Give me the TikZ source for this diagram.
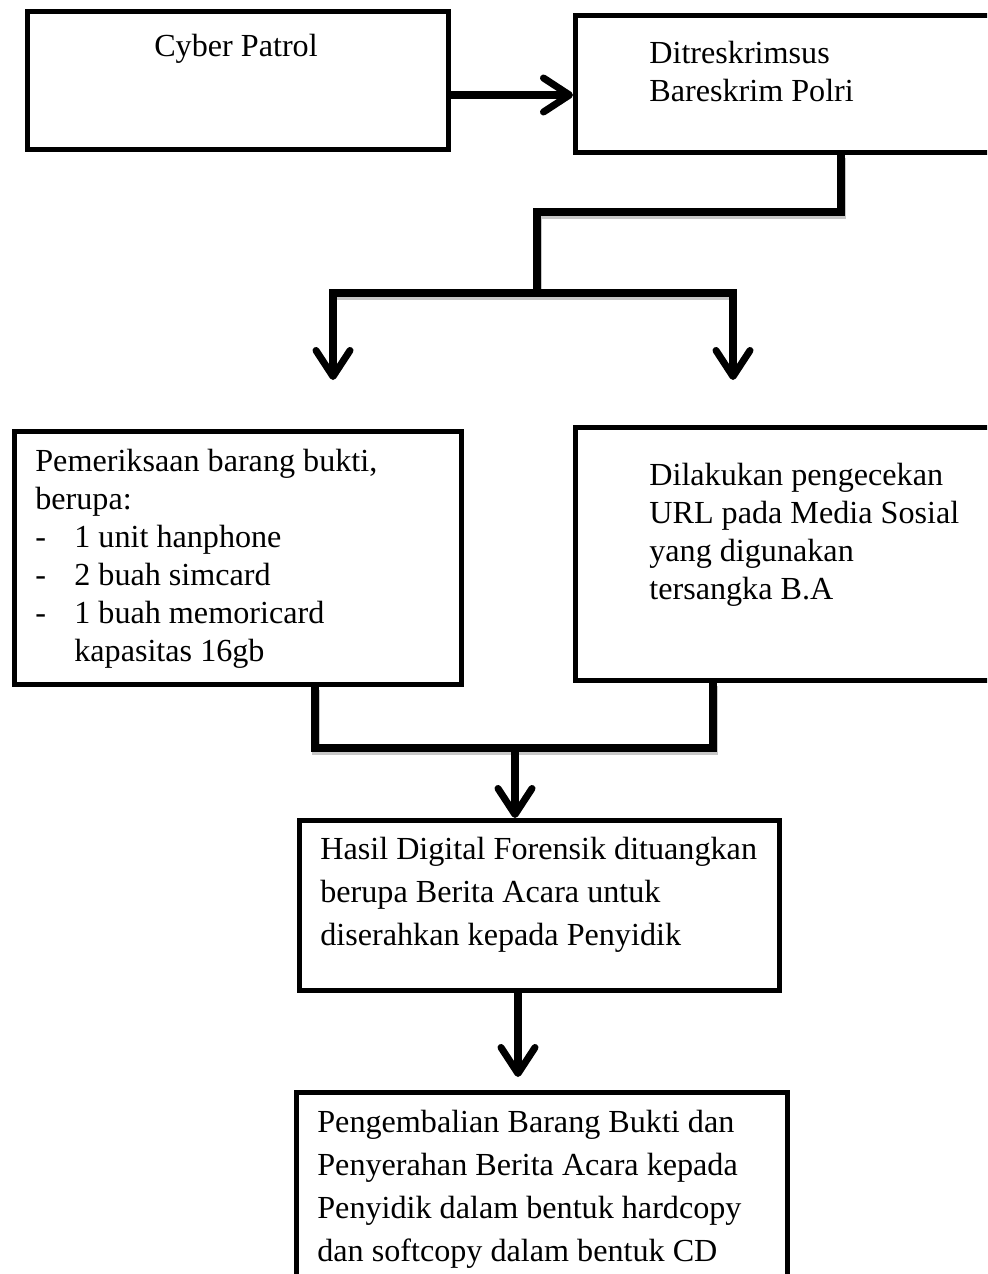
\documentclass[tikz,border=0pt]{standalone}
\usepackage{fontspec}
\setmainfont{Liberation Serif}
\usetikzlibrary{arrows.meta}

\begin{document}
\begin{tikzpicture}[
        x=0.02cm, y=-0.02cm,
        >={Straight Barb[length=0.52cm,width=0.68cm,round]},
        box/.style={draw, line width=2.8pt, inner sep=0pt, anchor=north west},
        link/.style={line width=4pt, line cap=rect,
          preaction={draw=black!22, line width=4.6pt,
            transform canvas={shift={(1,3)}}}},
        flow/.style={line width=4pt, ->},
        txt/.style={inner sep=0pt, anchor=north west, align=left,
          font=\fontsize{18.3pt}{21.6pt}\selectfont},
        wide txt/.style={txt, font=\fontsize{18.3pt}{24.4pt}\selectfont}
      ]

      \def\Dash{0.78cm} % hanging indent of the list

      \useasboundingbox (0,0) rectangle (987,1274);
      \clip (0,0) rectangle (987,1274);

      % Row 1
      \node[box, minimum width=8.42cm, minimum height=2.76cm] (patrol) at (25,9) {};
      \node[box, minimum width=8.54cm, minimum height=2.74cm] (ditres) at (573,13) {};
      \node[txt, anchor=base] (patrol_t) at (236,57) {Cyber Patrol};
      \node[txt] (ditres_t) at (649,41) {Ditreskrimsus\\Bareskrim Polri};

      \coordinate (row1) at (0,95);
      \draw[flow] (patrol.east |- row1) -- (ditres.west |- row1);

      % Split
      \coordinate (drop) at (841,212);
      \coordinate (split) at (537,212);
      \coordinate (fork) at (537,293);
      \coordinate (tip_l) at (333,380);
      \coordinate (tip_r) at (733,380);
      \draw[link] (ditres.south -| drop) -- (drop) -- (split) -- (fork);
      \draw[link] (tip_l |- fork) -- (tip_r |- fork);
      \draw[flow] (tip_l |- fork) -- (tip_l);
      \draw[flow] (tip_r |- fork) -- (tip_r);

      % Row 2
      \node[box, minimum width=8.94cm, minimum height=5.06cm] (pem) at (12,429) {};
      \node[box, minimum width=8.54cm, minimum height=5.06cm] (dil) at (573,425) {};
      \node[txt] (pem_t) at (35,449) {Pemeriksaan barang bukti,\\
        berupa:\\
        \makebox[\Dash][l]{-}1 unit hanphone\\
        \makebox[\Dash][l]{-}2 buah simcard\\
        \makebox[\Dash][l]{-}1 buah memoricard\\
        \makebox[\Dash][l]{}kapasitas 16gb};
      \node[txt] (dil_t) at (649,463) {Dilakukan pengecekan\\
        URL pada Media Sosial\\
        yang digunakan\\
        tersangka B.A};

      % Merge
      \coordinate (join_l) at (315,748);
      \coordinate (join_r) at (713,748);
      \coordinate (merge) at (515,748);
      \draw[link] (pem.south -| join_l) -- (join_l) -- (join_r) -- (dil.south -| join_r);

      % Row 3
      \node[box, minimum width=9.6cm, minimum height=3.4cm] (hasil) at (297,818) {};
      \node[wide txt] (hasil_t) at (320,837) {Hasil Digital Forensik dituangkan\\
        berupa Berita Acara untuk\\
        diserahkan kepada Penyidik};
      \draw[flow] (merge) -- (hasil.north -| merge);

      % Row 4
      \node[box, minimum width=9.82cm, minimum height=4.2cm] (kembali) at (294,1090) {};
      \node[wide txt] (kembali_t) at (317,1110) {Pengembalian Barang Bukti dan\\
        Penyerahan Berita Acara kepada\\
        Penyidik dalam bentuk hardcopy\\
        dan softcopy dalam bentuk CD};

      \coordinate (tip_k) at (518,1077);
      \draw[flow] (hasil.south -| tip_k) -- (tip_k);
    \end{tikzpicture}
\end{document}
